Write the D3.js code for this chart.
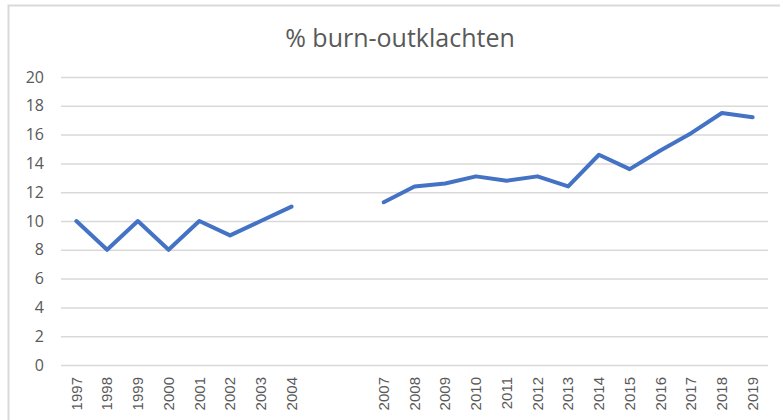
<!DOCTYPE html>
<html><head><meta charset="utf-8">
<script src="https://cdn.jsdelivr.net/npm/d3@7"></script>
<style>
html,body{margin:0;padding:0;background:#fff;}
svg{display:block;font-family:"Liberation Sans",Arial,sans-serif;}
</style></head>
<body><svg id="c" width="780" height="420"></svg>
<script>
const years = ["1997","1998","1999","2000","2001","2002","2003","2004","2005","2006","2007","2008","2009","2010","2011","2012","2013","2014","2015","2016","2017","2018","2019"];
const values = [10,8,10,8,10,9,10,11,null,null,11.3,12.4,12.6,13.1,12.8,13.1,12.4,14.6,13.6,14.9,16.1,17.5,17.2];
const xLabels = ["1997","1998","1999","2000","2001","2002","2003","2004","","","2007","2008","2009","2010","2011","2012","2013","2014","2015","2016","2017","2018","2019"];
const yTicks = [0,2,4,6,8,10,12,14,16,18,20];
const title = "% burn-outklachten";

const svg = d3.select("#c");
svg.append("rect").attr("x",8.5).attr("y",5.5).attr("width",790).attr("height",430)
  .attr("fill","#fff").attr("stroke","#d9d9d9").attr("stroke-width",2);

const L=61,R=768,T=77,B=365;
const x = d3.scaleBand().domain(years).range([L,R]);
const y = d3.scaleLinear().domain([0,20]).range([B,T]);

svg.append("text").attr("x",400).attr("y",47).attr("text-anchor","middle")
  .attr("font-size",25).attr("fill","#595959").attr("font-family","'Open Sans',sans-serif").text(title);

const gy = svg.append("g").attr("transform",`translate(${L},0)`)
  .call(d3.axisLeft(y).tickValues(yTicks).tickSize(-(R-L)).tickPadding(17).tickFormat(d3.format("d")));
gy.select(".domain").remove();
gy.selectAll(".tick line").attr("stroke","#d9d9d9").attr("stroke-width",1.5);
gy.selectAll(".tick text").attr("fill","#595959").attr("font-size",16).attr("font-family","'Open Sans',sans-serif");

const gx = svg.append("g").attr("transform",`translate(0,${B})`)
  .call(d3.axisBottom(x).tickSize(0).tickFormat((d,i)=>xLabels[i]));
gx.select(".domain").remove();
gx.selectAll(".tick text").attr("fill","#595959").attr("font-size",15)
  .attr("transform","rotate(-90)").attr("text-anchor","end")
  .attr("x",-12).attr("y",0).attr("dy","0.35em");

const line = d3.line().defined(d=>d.v!=null)
  .x(d=>x(d.k)+x.bandwidth()/2).y(d=>y(d.v));
svg.append("path").datum(years.map((k,i)=>({k,v:values[i]})))
  .attr("d",line).attr("fill","none").attr("stroke","#4472C4")
  .attr("stroke-width",4).attr("stroke-linejoin","round").attr("stroke-linecap","round");
</script></body></html>
